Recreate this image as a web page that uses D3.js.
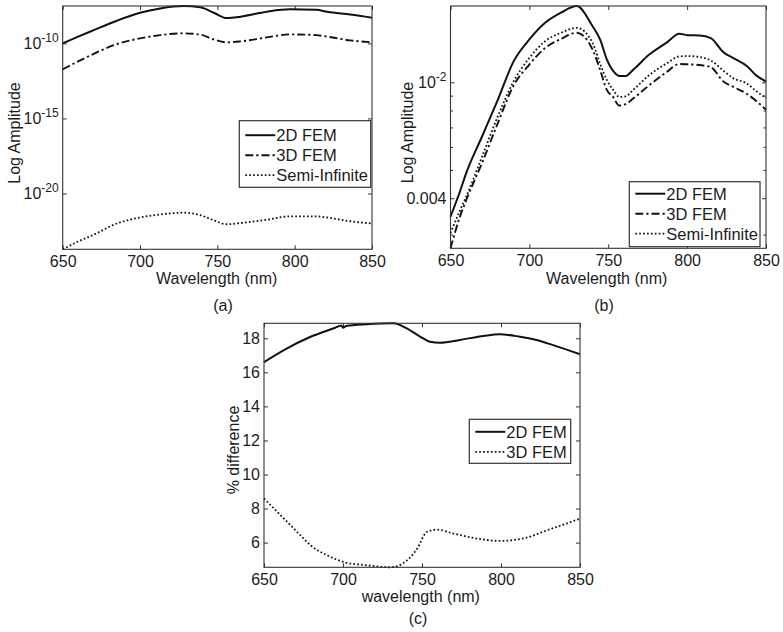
<!DOCTYPE html>
<html><head><meta charset="utf-8">
<script src="https://cdn.jsdelivr.net/npm/d3@7"></script>
<style>
body{margin:0;background:#fff;}
svg text{font-family:"Liberation Sans", Arial, Helvetica, sans-serif;}
</style></head><body>
<svg id="chart" width="783" height="632"></svg>
<script>
// ---------- data ----------
const xTicks = [650, 700, 750, 800, 850];

// panel (a)
const wlA   = [650, 660, 670, 685, 700, 713, 728, 739, 748, 756, 765, 782, 797, 814, 821, 836, 850];
const a2D   = [1.0e-10, 2.82e-10, 7.59e-10, 3.24e-9, 1.10e-8, 2.14e-8, 3.09e-8, 2.51e-8, 1.05e-8, 4.9e-9, 6.03e-9, 1.29e-8, 1.86e-8, 1.74e-8, 1.26e-8, 8.3e-9, 5.13e-9];
const a3D   = [1.86e-12, 6.31e-12, 2.0e-11, 8.91e-11, 2.14e-10, 3.55e-10, 4.68e-10, 3.8e-10, 1.78e-10, 1.17e-10, 1.35e-10, 2.51e-10, 3.98e-10, 3.55e-10, 2.82e-10, 1.58e-10, 1.17e-10];
const aSemi = [1.91e-24, 6.31e-24, 1.78e-23, 1.0e-22, 2.51e-22, 3.98e-22, 5.25e-22, 3.55e-22, 1.58e-22, 8.91e-23, 1.07e-22, 1.78e-22, 3.02e-22, 3.02e-22, 2.51e-22, 1.41e-22, 1.0e-22];
const aYTicks = [1e-20, 1e-15, 1e-10];

// panel (b)
const wlB   = [650, 656, 660, 670, 680, 690, 700, 710, 720, 730, 740, 745, 749, 753, 757, 761, 766, 776, 787, 795, 800, 808, 815, 823, 829, 838, 844, 850];
const b2D   = [0.003459, 0.004217, 0.004887, 0.006516, 0.008710, 0.01180, 0.01403, 0.01600, 0.01734, 0.01828, 0.01560, 0.01396, 0.01202, 0.01096, 0.01052, 0.01052, 0.01107, 0.01245, 0.01368, 0.01469, 0.01452, 0.01449, 0.01419, 0.01268, 0.01213, 0.01135, 0.01054, 0.01007];
const b3D   = [0.002692, 0.003459, 0.003945, 0.005284, 0.007244, 0.009750, 0.01151, 0.01312, 0.01409, 0.01479, 0.01297, 0.01096, 0.00944, 0.00891, 0.00832, 0.00841, 0.00881, 0.00977, 0.01084, 0.01156, 0.01153, 0.01146, 0.01127, 0.01007, 0.00966, 0.00912, 0.00861, 0.00805];
const bSemi = [0.003034, 0.003631, 0.004055, 0.005559, 0.007638, 0.01007, 0.01213, 0.01384, 0.01479, 0.01538, 0.01368, 0.01151, 0.01021, 0.00944, 0.00891, 0.00895, 0.00944, 0.01059, 0.01161, 0.01227, 0.01230, 0.01222, 0.01189, 0.01096, 0.01035, 0.00989, 0.00931, 0.00883];
const bYTicks = [0.004, 0.01];
const bYMinor = [0.003, 0.005, 0.006, 0.007, 0.008, 0.009];

// panel (c)
const wlC2D = [650, 662.6, 679.5, 694.2, 699, 700, 702, 715, 732, 740, 749, 755, 761.5, 774, 789, 799, 812, 820.5, 833, 850];
const c2D   = [16.6, 17.31, 18.09, 18.59, 18.75, 18.62, 18.72, 18.82, 18.88, 18.6, 18.09, 17.8, 17.74, 17.9, 18.14, 18.24, 18.09, 17.94, 17.6, 17.06];
const wlC3D = [650, 661.6, 672, 679.5, 690, 700.5, 715, 730, 740.5, 747, 753, 759.5, 770, 784.7, 799.4, 816, 829, 841.5, 850];
const c3D   = [8.59, 7.51, 6.53, 5.84, 5.25, 4.86, 4.67, 4.55, 4.96, 5.65, 6.62, 6.76, 6.53, 6.24, 6.1, 6.29, 6.72, 7.12, 7.41];
const cYTicks = [6, 8, 10, 12, 14, 16, 18];

// ---------- drawing ----------
const svg = d3.select("#chart");
const FONT = '"Liberation Sans", Arial, Helvetica, sans-serif';
const INK = "#1c1c1c";
const styles = {
  solid:   {dash: null,        width: 2.0},
  dashdot: {dash: "8,3,2.2,3", width: 1.9},
  dotted:  {dash: "1.7,2.2",   width: 1.8}
};

function supFormat(sel, fmt) {
  sel.selectAll(".tick text").each(function(d) {
    const t = d3.select(this);
    const f = fmt(d);
    t.text(null);
    if (f.exp !== undefined) {
      t.append("tspan").text(f.base);
      t.append("tspan").attr("dy", "-0.6em").attr("font-size", 12).text(f.exp);
    } else {
      t.text(f.base);
    }
  });
}

function drawPanel(p) {
  const g = svg.append("g");
  const x = d3.scaleLinear().domain([650, 850]).range([p.left, p.right]);
  const all = p.series.flatMap(s => s.values);
  const y = (p.log ? d3.scaleLog() : d3.scaleLinear()).domain(d3.extent(all)).range([p.bottom, p.top]);

  const axStyle = a => a.attr("font-size", 16).attr("font-family", FONT).attr("color", INK)
                       .call(s => s.select(".domain").remove())
                       .call(s => s.selectAll(".tick line").attr("stroke", "#333"));

  g.append("g").attr("transform", `translate(0,${p.bottom})`)
    .call(d3.axisBottom(x).tickValues(xTicks).tickSize(-4).tickPadding(6).tickFormat(d3.format("d")))
    .call(axStyle);
  g.append("g").attr("transform", `translate(0,${p.top})`)
    .call(d3.axisTop(x).tickValues(xTicks).tickSize(-4).tickFormat(""))
    .call(axStyle);

  const left = g.append("g").attr("transform", `translate(${p.left},0)`)
    .call(d3.axisLeft(y).tickValues(p.yTicks).tickSize(-4).tickPadding(4).tickFormat(d => ""))
    .call(axStyle);
  supFormat(left, p.yFmt);
  g.append("g").attr("transform", `translate(${p.right},0)`)
    .call(d3.axisRight(y).tickValues(p.yTicks).tickSize(-4).tickFormat(""))
    .call(axStyle);
  if (p.yMinor) {
    g.append("g").attr("transform", `translate(${p.left},0)`)
      .call(d3.axisLeft(y).tickValues(p.yMinor).tickSize(-2.5).tickFormat("")).call(axStyle);
    g.append("g").attr("transform", `translate(${p.right},0)`)
      .call(d3.axisRight(y).tickValues(p.yMinor).tickSize(-2.5).tickFormat("")).call(axStyle);
  }

  const line = d3.line().x(d => x(d[0])).y(d => y(d[1])).curve(d3.curveMonotoneX);
  p.series.forEach(s => {
    const st = styles[s.style];
    g.append("path").datum(d3.zip(s.wl, s.values))
      .attr("d", line).attr("fill", "none").attr("stroke", "#111")
      .attr("stroke-width", st.width).attr("stroke-dasharray", st.dash)
      .attr("stroke-linejoin", "round");
  });

  g.append("rect").attr("x", p.left).attr("y", p.top)
    .attr("width", p.right - p.left).attr("height", p.bottom - p.top)
    .attr("fill", "none").attr("stroke", "#333").attr("stroke-width", 1.1);

  // legend
  const L = p.legend;
  const lg = g.append("g");
  lg.append("rect").attr("x", L.x).attr("y", L.y).attr("width", L.w).attr("height", L.h)
    .attr("fill", "#fff").attr("stroke", "#333").attr("stroke-width", 1.2);
  p.series.forEach((s, i) => {
    const st = styles[s.style];
    const yy = L.y + L.first + i * 20;
    lg.append("line").attr("x1", L.x + 6).attr("x2", L.x + 36).attr("y1", yy).attr("y2", yy)
      .attr("stroke", "#111").attr("stroke-width", st.width).attr("stroke-dasharray", st.dash);
    lg.append("text").attr("x", L.x + 37).attr("y", yy + 5.8).attr("font-size", 16.5)
      .attr("fill", INK).text(s.name);
  });

  // labels
  g.append("text").attr("x", p.xl.x).attr("y", p.xl.y).attr("text-anchor", "middle")
    .attr("font-size", 16).attr("fill", INK).text(p.xl.text);
  g.append("text").attr("transform", `translate(${p.yl.x},${p.yl.y}) rotate(-90)`)
    .attr("text-anchor", "middle").attr("font-size", 16).attr("fill", INK).text(p.yl.text);
  g.append("text").attr("x", p.tag.x).attr("y", p.tag.y).attr("text-anchor", "middle")
    .attr("font-size", 16).attr("fill", INK).text(p.tag.text);
}

drawPanel({
  left: 62.7, right: 372, top: 6, bottom: 249.3, log: true,
  yTicks: aYTicks,
  yFmt: d => ({base: "10", exp: String(Math.round(Math.log10(d)))}),
  series: [
    {name: "2D FEM", wl: wlA, values: a2D, style: "solid"},
    {name: "3D FEM", wl: wlA, values: a3D, style: "dashdot"},
    {name: "Semi-Infinite", wl: wlA, values: aSemi, style: "dotted"}
  ],
  legend: {x: 239.3, y: 120.7, w: 131.4, h: 66.6, first: 14.5},
  xl: {x: 216.7, y: 283.5, text: "Wavelength (nm)"},
  yl: {x: 20, y: 133, text: "Log Amplitude"},
  tag: {x: 223, y: 310.5, text: "(a)"}
});

drawPanel({
  left: 450.5, right: 766, top: 6, bottom: 248.3, log: true,
  yTicks: bYTicks, yMinor: bYMinor,
  yFmt: d => d === 0.01 ? {base: "10", exp: "-2"} : {base: String(d)},
  series: [
    {name: "2D FEM", wl: wlB, values: b2D, style: "solid"},
    {name: "3D FEM", wl: wlB, values: b3D, style: "dashdot"},
    {name: "Semi-Infinite", wl: wlB, values: bSemi, style: "dotted"}
  ],
  legend: {x: 629.3, y: 181.7, w: 130.7, h: 65, first: 12},
  xl: {x: 606.7, y: 283.5, text: "Wavelength (nm)"},
  yl: {x: 413, y: 132.5, text: "Log Amplitude"},
  tag: {x: 604, y: 310.5, text: "(b)"}
});

drawPanel({
  left: 264, right: 580, top: 323.3, bottom: 567.3, log: false,
  yTicks: cYTicks,
  yFmt: d => ({base: String(d)}),
  series: [
    {name: "2D FEM", wl: wlC2D, values: c2D, style: "solid"},
    {name: "3D FEM", wl: wlC3D, values: c3D, style: "dotted"}
  ],
  legend: {x: 469.3, y: 419.3, w: 101.4, h: 44, first: 12.5},
  xl: {x: 420.8, y: 602, text: "wavelength (nm)"},
  yl: {x: 238.5, y: 450, text: "% difference"},
  tag: {x: 418, y: 623.5, text: "(c)"}
});
</script>
</body></html>
